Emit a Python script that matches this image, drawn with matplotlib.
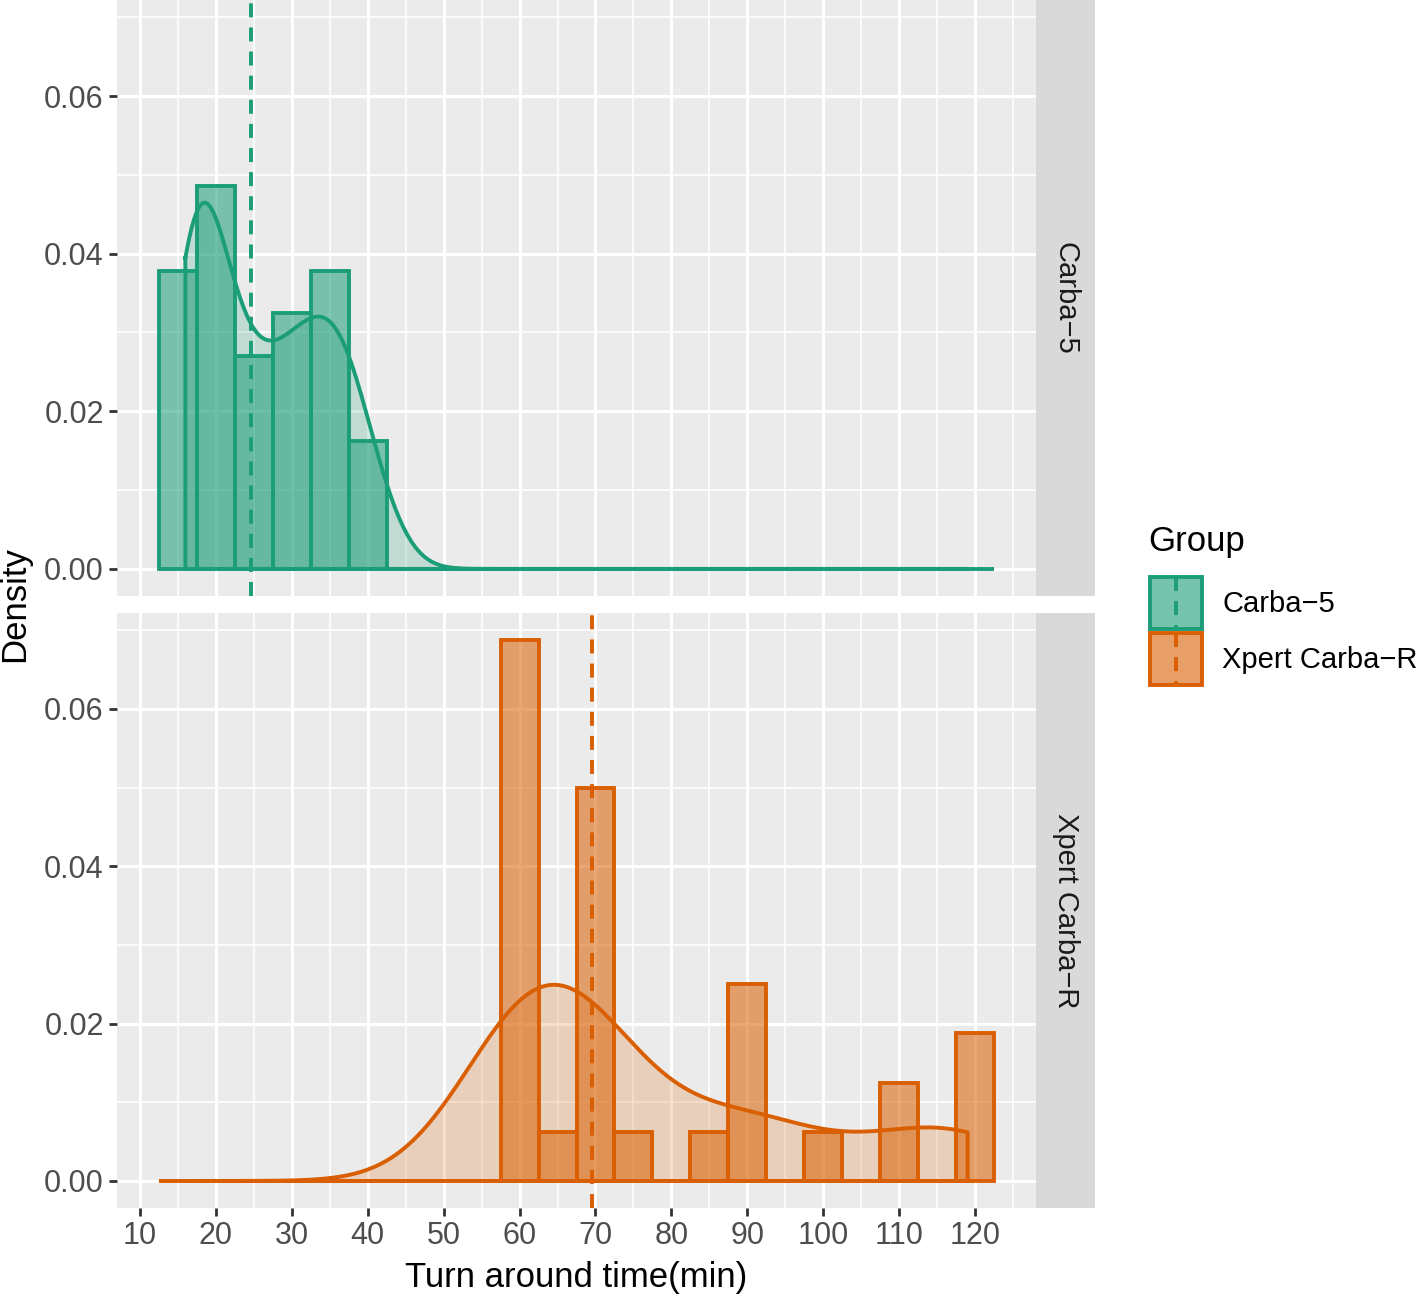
import numpy as np
import matplotlib
matplotlib.use("Agg")
import matplotlib.pyplot as plt
from matplotlib.patches import Rectangle
from matplotlib.lines import Line2D
from matplotlib.colors import to_rgba

plt.rcParams['font.family'] = ['Liberation Sans', 'DejaVu Sans']

# ---------------- data ----------------
groups = ["Carba\u22125", "Xpert Carba\u2212R"]
group_colors = ["#1B9E77", "#D95F02"]

carba5_times = [16, 16, 16, 17, 17, 17, 17,
                18, 18, 18, 18, 19, 19, 20, 21, 22,
                23, 24, 24.6, 26, 27,
                28, 29, 30, 31, 32, 32,
                33, 34, 35, 36, 37, 37, 37,
                38, 40, 42]
xpert_times = [58, 59, 60, 60, 60, 60, 60, 60, 60, 61, 62,
               65,
               68, 68, 69, 69, 70, 70, 71, 72,
               75,
               85,
               88, 90, 90, 92,
               100,
               110, 112,
               118, 119, 119]
all_times = [carba5_times, xpert_times]

bin_width = 5
bin_start = 12.5
bin_end = 122.5
x_ticks = [10, 20, 30, 40, 50, 60, 70, 80, 90, 100, 110, 120]
y_ticks = [0.00, 0.02, 0.04, 0.06]
y_tick_labels = ["0.00", "0.02", "0.04", "0.06"]

# ---------------- helpers ----------------
def bw_nrd0(x):
    x = np.asarray(x, float)
    sd = np.std(x, ddof=1)
    q75, q25 = np.percentile(x, [75, 25])
    lo = min(sd, (q75 - q25) / 1.34)
    return 0.9 * lo * len(x) ** (-0.2)

def kde(x, grid):
    x = np.asarray(x, float)
    h = bw_nrd0(x)
    z = (grid[:, None] - x[None, :]) / h
    return np.exp(-0.5 * z ** 2).sum(axis=1) / (len(x) * h * np.sqrt(2 * np.pi))

W, H = 1418, 1296
fig = plt.figure(figsize=(W / 100, H / 100), dpi=100)
fig.patch.set_facecolor("white")

def fr(l, t, r, b):
    return [l / W, 1 - b / H, (r - l) / W, (b - t) / H]

panel_boxes = [(117, 0, 1036, 596), (117, 613, 1036, 1208)]

edges = np.arange(bin_start, bin_end + 0.01, bin_width)
hist_dens = []
for t in all_times:
    c, _ = np.histogram(t, bins=edges)
    hist_dens.append(c / (len(t) * bin_width))
ymax = max(d.max() for d in hist_dens)
ylim = (-0.05 * ymax, 1.05 * ymax)
xlim = (bin_start - 0.05 * (bin_end - bin_start), bin_end + 0.05 * (bin_end - bin_start))

xmin_all = min(min(t) for t in all_times)
xmax_all = max(max(t) for t in all_times)
grid = np.linspace(xmin_all, xmax_all, 512)

grid_major_lw = 2.2
grid_minor_lw = 1.2
lw = 2.8
dash = (0, (3.6, 2.6))

axes = []
for i, (l, t, r, b) in enumerate(panel_boxes):
    ax = fig.add_axes(fr(l, t, r, b))
    ax.set_facecolor("#EBEBEB")
    for s in ax.spines.values():
        s.set_visible(False)
    ax.set_xlim(*xlim)
    ax.set_ylim(*ylim)
    # grid
    for xv in np.arange(5, 130, 10):
        ax.axvline(xv, color="white", lw=grid_minor_lw, zorder=0)
    for xv in x_ticks:
        ax.axvline(xv, color="white", lw=grid_major_lw, zorder=0)
    for yv in [0.01, 0.03, 0.05, 0.07]:
        ax.axhline(yv, color="white", lw=grid_minor_lw, zorder=0)
    for yv in y_ticks:
        ax.axhline(yv, color="white", lw=grid_major_lw, zorder=0)

    col = group_colors[i]
    times = all_times[i]
    ax.bar(edges[:-1], hist_dens[i], width=bin_width, align="edge",
           facecolor=to_rgba(col, 0.55), edgecolor=col, linewidth=lw, zorder=2)
    dens = kde(times, grid)
    px = np.concatenate([grid, [grid[-1], grid[0]]])
    py = np.concatenate([dens, [0, 0]])
    ax.fill(px, py, facecolor=to_rgba(col, 0.2), edgecolor="none", zorder=3)
    ax.plot(np.append(px, px[0]), np.append(py, py[0]), color=col, lw=lw, zorder=4,
            solid_joinstyle="round")
    ax.axvline(np.median(times), color=col, lw=lw, linestyle=dash, zorder=5)

    ax.set_yticks(y_ticks)
    ax.set_yticklabels(y_tick_labels)
    ax.tick_params(axis="y", length=6.0, width=2.0, color="#333333",
                   labelsize=22, labelcolor="#4D4D4D", pad=3.5)
    if i == 1:
        ax.set_xticks(x_ticks)
        ax.set_xticklabels([str(v) for v in x_ticks])
        ax.tick_params(axis="x", length=6.0, width=2.0, color="#333333",
                       labelsize=22, labelcolor="#4D4D4D", pad=3.5)
    else:
        ax.set_xticks([])
    axes.append(ax)

    # strip
    sax = fig.add_axes(fr(1036, t, 1095, b))
    sax.set_facecolor("#D9D9D9")
    sax.set_xticks([]); sax.set_yticks([])
    for s in sax.spines.values():
        s.set_visible(False)
    sax.text(0.5, 0.5, groups[i], rotation=270, ha="center", va="center",
             fontsize=21, color="#1A1A1A", transform=sax.transAxes)

# overlay for labels & legend (pixel coordinates)
ov = fig.add_axes([0, 0, 1, 1], facecolor="none")
ov.set_xlim(0, W); ov.set_ylim(H, 0); ov.axis("off")

ov.text(576.5, 1277, "Turn around time(min)", ha="center", va="center", fontsize=25, color="black")
ov.text(15, 604, "Density", ha="center", va="center", rotation=90, fontsize=25, color="black")

ov.text(1148, 541, "Group", ha="left", va="center", fontsize=25, color="black")
key_tops = [577, 633]
for i, kt in enumerate(key_tops):
    col = group_colors[i]
    ov.add_patch(Rectangle((1150, kt), 52, 52, facecolor=to_rgba(col, 0.6),
                           edgecolor=col, linewidth=lw))
    ov.add_line(Line2D([1176, 1176], [kt, kt + 52], color=col, lw=lw,
                       linestyle=dash))
    ov.text(1222, kt + 27, groups[i], ha="left", va="center", fontsize=21, color="black")

fig.savefig("out.png", dpi=100)
